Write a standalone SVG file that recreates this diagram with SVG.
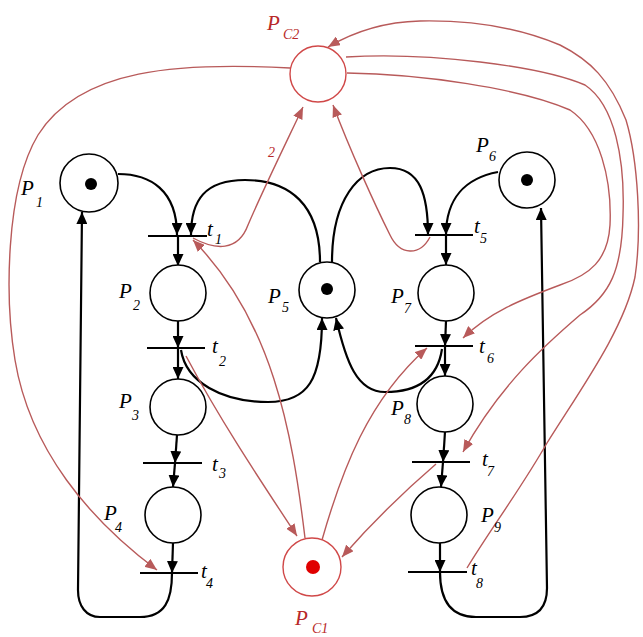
<svg xmlns="http://www.w3.org/2000/svg" width="643" height="637" viewBox="0 0 643 637">
<defs>
<marker id="ab" markerUnits="userSpaceOnUse" markerWidth="12" markerHeight="11" refX="12" refY="5.5" orient="auto"><path d="M0,0 L12,5.5 L0,11 z" fill="#000"/></marker>
<marker id="ar" markerUnits="userSpaceOnUse" markerWidth="12" markerHeight="10" refX="12" refY="5" orient="auto"><path d="M0,0 L12,5 L0,10 z" fill="#b85a5a"/></marker>
</defs>
<style>
.pl{fill:#fff;stroke:#000;stroke-width:1.6}
.pc{fill:#fff;stroke:#d04848;stroke-width:1.4}
.tk{fill:#000}
.tr{stroke:#000;stroke-width:2}
.ba{fill:none;stroke:#000;stroke-width:2.2;marker-end:url(#ab)}
.ra{fill:none;stroke:#b85a5a;stroke-width:1.4;marker-end:url(#ar)}
.lb{font-family:"Liberation Serif",serif;font-style:italic;fill:#000}
.lr{font-family:"Liberation Serif",serif;font-style:italic;fill:#b82828}
.P{font-size:21px}
.s{font-size:14px}
</style>
<rect width="643" height="637" fill="#fff"/>
<g id="connectors">
<path class="ba" d="M118,174 C150,174 177,190 177,235"/>
<path class="ba" d="M320,262 C320,205 290,180 245,180 C205,180 191,200 191,235"/>
<path class="ba" d="M178,237 L178,266"/>
<path class="ba" d="M178,321 L178,348"/>
<path class="ba" d="M178,348 L178,379"/>
<path class="ba" d="M177,435 L175,463"/>
<path class="ba" d="M175,463 L173,487"/>
<path class="ba" d="M173,543 L172,573"/>
<path class="ba" d="M172,573 C172,600 165,617 140,617 L100,617 C86,617 78,606 78,590 L82,212"/>
<path class="ba" d="M181,350 C186,382 222,402 268,402 C308,402 322,380 322,318"/>
<path class="ba" d="M332,262 C332,200 358,168 390,168 C420,168 428,195 428,235"/>
<path class="ba" d="M498,172 C466,178 446,198 446,235"/>
<path class="ba" d="M446,236 L446,265"/>
<path class="ba" d="M446,321 L445,346"/>
<path class="ba" d="M445,346 L445,376"/>
<path class="ba" d="M442,349 C438,376 420,392 385,392 C357,392 346,362 336,318"/>
<path class="ba" d="M445,432 L443,462"/>
<path class="ba" d="M443,462 L441,487"/>
<path class="ba" d="M440,543 L440,572"/>
<path class="ba" d="M440,572 C440,600 450,617 476,617 L520,617 C539,617 547,606 547,588 L541,208"/>
<path class="ra" d="M290,68 C180,62 80,68 38,135 C5,190 5,300 15,360 C30,450 90,520 157,570"/>
<path class="ra" d="M193,238 C215,250 238,252 248,225 C262,192 285,145 303,107"/>
<path class="ra" d="M430,237 C420,256 400,256 390,235 C375,205 350,150 333,105"/>
<path class="ra" d="M347,73 C420,74 520,88 570,110 C600,130 612,180 610,225 C608,260 590,275 560,285 C520,300 490,312 463,338"/>
<path class="ra" d="M346,57 C430,52 540,66 585,85 C615,105 625,160 623,215 C622,270 610,295 580,315 C545,345 500,385 463,452"/>
<path class="ra" d="M467,568 C490,530 520,490 547,443 C580,390 624,330 635,277 C642,230 638,160 626,120 C610,80 590,60 560,45 C520,28 470,20 420,21 C380,22 350,34 328,47"/>
<path class="ra" d="M186,356 C220,420 260,480 297,536"/>
<path class="ra" d="M305,538 C292,430 272,320 193,240"/>
<path class="ra" d="M322,540 C342,470 368,400 427,348"/>
<path class="ra" d="M436,464 C400,495 370,525 342,557"/>
</g>
<g id="t1"><line class="tr" x1="148" y1="236" x2="207" y2="236"/><text class="lb P" x="207" y="236">t</text><text class="lb s" x="215" y="244">1</text></g>
<g id="t2"><line class="tr" x1="147" y1="348" x2="205" y2="348"/><text class="lb P" x="212" y="353">t</text><text class="lb s" x="219" y="366">2</text></g>
<g id="t3"><line class="tr" x1="143" y1="463" x2="202" y2="463"/><text class="lb P" x="212" y="471">t</text><text class="lb s" x="219" y="478">3</text></g>
<g id="t4"><line class="tr" x1="140" y1="573" x2="198" y2="573"/><text class="lb P" x="201" y="578">t</text><text class="lb s" x="206" y="588">4</text></g>
<g id="t5"><line class="tr" x1="415" y1="235" x2="473" y2="235"/><text class="lb P" x="474" y="233">t</text><text class="lb s" x="480" y="243">5</text></g>
<g id="t6"><line class="tr" x1="415" y1="346" x2="473" y2="346"/><text class="lb P" x="479" y="353">t</text><text class="lb s" x="487" y="363">6</text></g>
<g id="t7"><line class="tr" x1="412" y1="462" x2="470" y2="462"/><text class="lb P" x="482" y="466">t</text><text class="lb s" x="487" y="476">7</text></g>
<g id="t8"><line class="tr" x1="408" y1="572" x2="467" y2="572"/><text class="lb P" x="471" y="575">t</text><text class="lb s" x="476" y="588">8</text></g>
<g id="P1"><circle class="pl" cx="89" cy="183" r="29"/><circle class="tk" cx="91" cy="184" r="6"/><text class="lb P" x="21" y="195">P</text><text class="lb s" x="36" y="207">1</text></g>
<g id="P2"><circle class="pl" cx="178" cy="293" r="28"/><text class="lb P" x="119" y="298">P</text><text class="lb s" x="133" y="310">2</text></g>
<g id="P3"><circle class="pl" cx="178" cy="407" r="28"/><text class="lb P" x="119" y="408">P</text><text class="lb s" x="132" y="420">3</text></g>
<g id="P4"><circle class="pl" cx="173" cy="515" r="28"/><text class="lb P" x="104" y="520">P</text><text class="lb s" x="115" y="532">4</text></g>
<g id="P5"><circle class="pl" cx="327" cy="290" r="28"/><circle class="tk" cx="327" cy="289" r="6"/><text class="lb P" x="268" y="303">P</text><text class="lb s" x="282" y="312">5</text></g>
<g id="P6"><circle class="pl" cx="527" cy="180" r="28"/><circle class="tk" cx="527" cy="180" r="6"/><text class="lb P" x="476" y="152">P</text><text class="lb s" x="489" y="161">6</text></g>
<g id="P7"><circle class="pl" cx="446" cy="293" r="28"/><text class="lb P" x="391" y="303">P</text><text class="lb s" x="404" y="313">7</text></g>
<g id="P8"><circle class="pl" cx="445" cy="404" r="28"/><text class="lb P" x="391" y="415">P</text><text class="lb s" x="404" y="424">8</text></g>
<g id="P9"><circle class="pl" cx="439" cy="515" r="28"/><text class="lb P" x="481" y="522">P</text><text class="lb s" x="494" y="532">9</text></g>
<g id="PC1"><circle class="pc" cx="312" cy="567" r="29"/><circle cx="313" cy="567" r="7" fill="#e00000"/><text class="lr P" x="295" y="625">P</text><text class="lr s" x="312" y="633">C1</text></g>
<g id="PC2"><circle class="pc" cx="318" cy="74" r="28"/><text class="lr P" x="267" y="30">P</text><text class="lr s" x="283" y="39">C2</text></g>
<text class="lr s" x="268" y="157">2</text>
</svg>
